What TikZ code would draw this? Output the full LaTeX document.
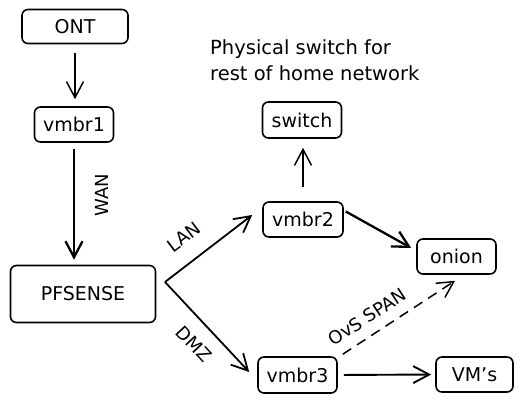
\documentclass[tikz,border=0pt]{standalone}
\usepackage{fontspec}
\setmainfont{DejaVu Sans}
\usetikzlibrary{arrows.meta,calc}

\begin{document}
\begin{tikzpicture}[x=1pt,y=1pt,
  box/.style={draw, line width=1.6pt, rounded corners=6pt, inner sep=0pt, font=\fontsize{19}{23}\selectfont},
  link/.style={line width=1.5pt, -{Straight Barb[length=16pt,width=17pt]}},
  heavy/.style={link, line width=2.3pt},
  tag/.style={font=\fontsize{18}{22}\selectfont, inner sep=0pt}]
\useasboundingbox[fill=white] (0,0) rectangle (523,402);

\node[box, minimum width=106pt, minimum height=34pt] (ont) at (75, 375.5) {ONT};
\node[box, minimum width=79pt, minimum height=35pt] (vmbr1) at (74, 277.5) {vmbr1};
\node[box, minimum width=145pt, minimum height=57pt] (pf) at (83, 108) {PFSENSE};
\node[box, minimum width=79pt, minimum height=36pt] (switch) at (302, 282) {switch};
\node[box, minimum width=80pt, minimum height=35pt] (vmbr2) at (303, 182.5) {vmbr2};
\node[box, minimum width=79pt, minimum height=35pt] (onion) at (456.5, 145.5) {onion};
\node[box, minimum width=79pt, minimum height=36pt] (vmbr3) at (297.5, 27) {vmbr3};
\node[box, minimum width=77pt, minimum height=35pt] (vms) at (474.5, 27.5) {VM's};
\coordinate (fork) at (165, 120);

\node[tag, anchor=north west, align=left, font=\fontsize{19.5}{26}\selectfont] (note) at (210, 363)
  {Physical switch for\\rest of home network};

\draw[link, shorten <=9pt, shorten >=7pt] (ont.south) -- (ont.south |- vmbr1.north);
\draw[heavy, shorten <=6pt, shorten >=5pt] (vmbr1.south) -- (vmbr1.south |- pf.north);
\draw[link, line width=1.8pt] (fork) -- ($(vmbr2.west)+(-10,4.5)$);
\draw[link, line width=1.8pt] (fork) -- ($(vmbr3.west)+(-8,3)$);
\draw[link, shorten <=14pt, shorten >=9pt] (vmbr2.north) -- (vmbr2.north |- switch.south);
\draw[heavy] ($(vmbr2.east)+(2,8)$) -- ($(onion.west)+(-5,8.5)$);
\draw[link, dash pattern=on 10pt off 7pt] ($(vmbr3.north east)+(5,2)$) -- ($(onion.south)+(-1.5,-6)$);
\draw[link, line width=1.9pt, shorten <=6pt, shorten >=4pt] (vmbr3.east) -- (vms.west);

\node[tag, rotate=90] (wan) at (102, 207) {WAN};
\node[tag, rotate=37] (lan) at (184, 165) {LAN};
\node[tag, rotate=-47] (dmz) at (194, 58) {DMZ};
\node[tag, rotate=33] (span) at (367, 85) {OvS SPAN};

\end{tikzpicture}
\end{document}
